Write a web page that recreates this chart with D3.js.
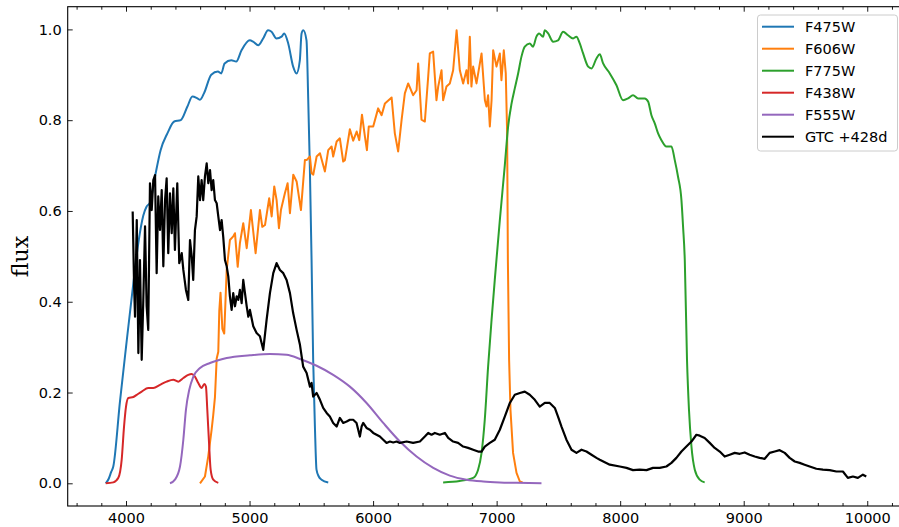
<!DOCTYPE html>
<html><head><meta charset="utf-8">
<script src="https://cdn.jsdelivr.net/npm/d3@7"></script>
<style>
body{margin:0;background:#fff;}
svg{display:block;}
</style></head>
<body>
<svg id="chart" width="899" height="527"></svg>
<script>
// ---- data (wavelength in Å, normalised flux) ----
const seriesNames = ["F475W","F606W","F775W","F438W","F555W","GTC +428d"];
const seriesColors = ["#1f77b4","#ff7f0e","#2ca02c","#d62728","#9467bd","#000000"];
const xTicks = [4000,5000,6000,7000,8000,9000,10000];
const yTicks = [0.0,0.2,0.4,0.6,0.8,1.0];

const f475w = [[3836,0],[3860,0.01],[3880,0.025],[3897,0.037],[3951,0.18],[4000,0.30],[4059,0.44],[4100,0.53],[4140,0.59],[4167,0.61],[4194,0.618],[4235,0.676],[4280,0.734],[4335,0.771],[4390,0.797],[4443,0.80],[4497,0.83],[4537,0.852],[4578,0.848],[4599,0.845],[4631,0.859],[4690,0.90],[4744,0.907],[4771,0.903],[4798,0.925],[4852,0.932],[4892,0.929],[4935,0.954],[5002,0.976],[5029,0.973],[5070,0.965],[5110,0.98],[5150,0.998],[5178,0.995],[5218,0.98],[5259,0.984],[5280,0.991],[5313,0.969],[5353,0.918],[5380,0.903],[5407,0.932],[5421,0.991],[5435,0.998],[5461,0.976],[5475,0.845],[5488,0.698],[5502,0.492],[5515,0.272],[5529,0.125],[5542,0.03],[5560,0.015],[5583,0.008],[5637,0.002]];

const f606w = [[4599,0],[4639,0.015],[4666,0.06],[4693,0.118],[4706,0.15],[4720,0.19],[4734,0.275],[4747,0.29],[4755,0.38],[4765,0.42],[4780,0.34],[4795,0.33],[4815,0.47],[4841,0.536],[4868,0.544],[4882,0.551],[4904,0.477],[4922,0.529],[4949,0.573],[4977,0.518],[5011,0.602],[5049,0.507],[5084,0.602],[5103,0.565],[5125,0.569],[5159,0.628],[5179,0.588],[5200,0.654],[5219,0.624],[5238,0.562],[5254,0.602],[5286,0.639],[5308,0.661],[5327,0.595],[5354,0.680],[5381,0.665],[5416,0.602],[5448,0.712],[5462,0.712],[5489,0.720],[5502,0.683],[5516,0.680],[5543,0.720],[5570,0.727],[5610,0.687],[5637,0.734],[5664,0.742],[5677,0.720],[5705,0.753],[5731,0.760],[5758,0.709],[5772,0.712],[5812,0.78],[5839,0.755],[5867,0.775],[5888,0.756],[5910,0.812],[5934,0.764],[5950,0.734],[5965,0.786],[6001,0.786],[6041,0.826],[6069,0.811],[6096,0.837],[6150,0.85],[6176,0.771],[6203,0.731],[6231,0.801],[6257,0.859],[6284,0.881],[6324,0.855],[6352,0.866],[6365,0.925],[6392,0.801],[6419,0.797],[6446,0.896],[6459,0.947],[6486,0.951],[6513,0.844],[6527,0.874],[6554,0.910],[6567,0.844],[6594,0.874],[6621,0.881],[6648,0.910],[6676,0.998],[6702,0.910],[6729,0.881],[6756,0.910],[6769,0.881],[6783,0.984],[6796,0.874],[6810,0.918],[6837,0.881],[6878,0.947],[6905,0.844],[6918,0.830],[6931,0.855],[6945,0.786],[6959,0.844],[6972,0.954],[6999,0.918],[7026,0.947],[7039,0.888],[7058,0.954],[7074,0.903],[7085,0.771],[7091,0.492],[7101,0.272],[7112,0.162],[7133,0.067],[7161,0.023],[7188,0.004],[7210,0.002]];

const f775w = [[6567,0.002],[6700,0.005],[6810,0.012],[6850,0.03],[6878,0.067],[6904,0.14],[6931,0.257],[6959,0.36],[6985,0.448],[7004,0.51],[7026,0.58],[7066,0.70],[7093,0.786],[7121,0.837],[7147,0.87],[7174,0.903],[7201,0.94],[7228,0.962],[7268,0.969],[7295,0.962],[7322,0.984],[7343,0.991],[7376,0.984],[7390,0.998],[7417,0.991],[7457,0.973],[7497,0.976],[7538,0.995],[7578,0.987],[7619,0.98],[7646,0.984],[7673,0.969],[7700,0.947],[7741,0.918],[7768,0.914],[7808,0.936],[7835,0.945],[7862,0.925],[7916,0.903],[7970,0.877],[8023,0.844],[8064,0.848],[8104,0.855],[8145,0.848],[8199,0.848],[8226,0.841],[8253,0.811],[8280,0.793],[8307,0.771],[8334,0.756],[8374,0.742],[8415,0.742],[8442,0.712],[8468,0.676],[8496,0.624],[8509,0.566],[8523,0.492],[8541,0.272],[8557,0.162],[8577,0.081],[8604,0.03],[8644,0.008],[8684,0.002]];

const f438w = [[3836,0],[3897,0.002],[3938,0.012],[3965,0.052],[3984,0.125],[4000,0.169],[4019,0.188],[4059,0.19],[4087,0.195],[4127,0.202],[4180,0.21],[4221,0.21],[4275,0.217],[4329,0.224],[4383,0.228],[4423,0.224],[4464,0.232],[4504,0.239],[4531,0.241],[4558,0.235],[4585,0.221],[4612,0.21],[4634,0.219],[4647,0.213],[4658,0.162],[4672,0.089],[4685,0.03],[4706,0.008],[4747,0.001]];

const f555w = [[4356,0],[4396,0.008],[4437,0.037],[4464,0.096],[4485,0.162],[4512,0.206],[4545,0.235],[4599,0.254],[4680,0.265],[4815,0.276],[5003,0.282],[5165,0.285],[5300,0.283],[5408,0.274],[5543,0.259],[5677,0.239],[5812,0.213],[5947,0.177],[6082,0.133],[6217,0.092],[6352,0.059],[6487,0.034],[6621,0.017],[6756,0.008],[6891,0.004],[7026,0.002],[7161,0.001],[7363,0]];

const gtc428 = [[4054,0.599],[4065,0.441],[4073,0.367],[4087,0.580],[4100,0.287],[4113,0.492],[4127,0.272],[4140,0.404],[4154,0.566],[4167,0.39],[4180,0.338],[4194,0.661],[4208,0.602],[4221,0.668],[4235,0.679],[4248,0.463],[4261,0.632],[4275,0.558],[4289,0.646],[4302,0.478],[4316,0.624],[4329,0.672],[4342,0.507],[4356,0.639],[4370,0.551],[4383,0.65],[4396,0.514],[4415,0.661],[4431,0.485],[4451,0.507],[4464,0.47],[4485,0.426],[4504,0.404],[4518,0.536],[4532,0.5],[4544,0.448],[4558,0.558],[4572,0.588],[4585,0.676],[4599,0.624],[4612,0.668],[4625,0.624],[4639,0.676],[4653,0.705],[4666,0.661],[4680,0.690],[4693,0.646],[4706,0.668],[4720,0.624],[4734,0.617],[4747,0.588],[4761,0.558],[4774,0.580],[4787,0.543],[4801,0.492],[4815,0.478],[4828,0.456],[4841,0.412],[4855,0.382],[4868,0.419],[4882,0.39],[4896,0.412],[4909,0.404],[4922,0.426],[4936,0.397],[4949,0.448],[4963,0.419],[4977,0.39],[4990,0.367],[5003,0.382],[5030,0.346],[5057,0.331],[5084,0.324],[5111,0.294],[5138,0.36],[5165,0.419],[5192,0.463],[5219,0.485],[5246,0.47],[5273,0.463],[5300,0.448],[5327,0.419],[5353,0.375],[5381,0.338],[5408,0.305],[5434,0.257],[5462,0.243],[5489,0.213],[5502,0.221],[5515,0.191],[5543,0.199],[5570,0.184],[5596,0.166],[5624,0.155],[5650,0.147],[5677,0.133],[5705,0.125],[5731,0.144],[5758,0.133],[5786,0.136],[5812,0.14],[5839,0.14],[5866,0.133],[5893,0.103],[5907,0.125],[5920,0.133],[5947,0.122],[5974,0.118],[6001,0.111],[6028,0.107],[6055,0.103],[6082,0.096],[6109,0.089],[6136,0.092],[6163,0.09],[6190,0.092],[6217,0.089],[6271,0.092],[6324,0.089],[6379,0.092],[6419,0.103],[6446,0.111],[6473,0.107],[6500,0.111],[6540,0.107],[6581,0.111],[6608,0.1],[6648,0.092],[6688,0.089],[6729,0.081],[6769,0.078],[6810,0.074],[6850,0.07],[6878,0.07],[6904,0.081],[6945,0.089],[6985,0.096],[7026,0.118],[7066,0.147],[7107,0.177],[7147,0.195],[7188,0.199],[7228,0.202],[7268,0.195],[7309,0.184],[7349,0.169],[7390,0.177],[7430,0.177],[7471,0.166],[7497,0.147],[7525,0.125],[7565,0.096],[7606,0.074],[7646,0.067],[7687,0.074],[7727,0.07],[7768,0.063],[7808,0.056],[7835,0.052],[7916,0.041],[7997,0.037],[8051,0.034],[8104,0.029],[8158,0.03],[8213,0.029],[8266,0.034],[8320,0.034],[8374,0.037],[8415,0.045],[8455,0.056],[8496,0.07],[8536,0.081],[8577,0.092],[8617,0.107],[8644,0.105],[8684,0.1],[8725,0.089],[8765,0.078],[8806,0.07],[8846,0.059],[8887,0.063],[8927,0.067],[8968,0.065],[9008,0.068],[9048,0.063],[9089,0.059],[9129,0.056],[9170,0.054],[9210,0.067],[9251,0.07],[9291,0.073],[9332,0.067],[9372,0.056],[9413,0.048],[9453,0.045],[9493,0.041],[9534,0.037],[9588,0.032],[9641,0.030],[9696,0.029],[9750,0.026],[9803,0.026],[9843,0.012],[9884,0.015],[9924,0.012],[9965,0.019],[9992,0.015]];

const seriesData = [f475w, f606w, f775w, f438w, f555w, gtc428];
const smoothSeries = [true, false, true, true, true, false];

// ---- layout ----
const svg = d3.select("#chart");
const L = 67.7, R = 905.3, T = 6.7, B = 506;
const x = d3.scaleLinear().domain([3528, 10308]).range([L, R]);
const y = d3.scaleLinear().domain([-0.05, 1.05]).range([B, T]);
const FONT = "'DejaVu Sans', sans-serif";

// lines
const plot = svg.append("g");
seriesData.forEach((d, i) => {
  const line = d3.line().x(p => x(p[0])).y(p => y(p[1]))
    .curve(smoothSeries[i] ? d3.curveMonotoneX : d3.curveLinear);
  plot.append("path").datum(d).attr("d", line)
    .attr("fill", "none").attr("stroke", seriesColors[i])
    .attr("stroke-width", i === 5 ? 2.2 : 2).attr("stroke-linejoin", "round");
});

// axes
const minorX = d3.range(3600, 10301, 200).filter(v => v % 1000 !== 0);
function styleAxis(g){
  g.selectAll(".domain").remove();
  g.selectAll("line").attr("stroke", "#000").attr("stroke-width", 0.9);
  g.selectAll("text").attr("font-family", FONT).attr("font-size", "14.5px").attr("fill", "#000");
}
svg.append("g").attr("transform", `translate(0,${B})`)
  .call(d3.axisBottom(x).tickValues(xTicks).tickSizeInner(-5).tickSizeOuter(0).tickPadding(7).tickFormat(d3.format("d")))
  .call(styleAxis);
svg.append("g").attr("transform", `translate(0,${B})`)
  .call(d3.axisBottom(x).tickValues(minorX).tickSizeInner(-3).tickSizeOuter(0).tickFormat(""))
  .call(styleAxis);
svg.append("g").attr("transform", `translate(0,${T})`)
  .call(d3.axisTop(x).tickValues(xTicks).tickSizeInner(-5).tickSizeOuter(0).tickFormat(""))
  .call(styleAxis);
svg.append("g").attr("transform", `translate(0,${T})`)
  .call(d3.axisTop(x).tickValues(minorX).tickSizeInner(-3).tickSizeOuter(0).tickFormat(""))
  .call(styleAxis);
svg.append("g").attr("transform", `translate(${L},0)`)
  .call(d3.axisLeft(y).tickValues(yTicks).tickSizeInner(-5).tickSizeOuter(0).tickPadding(6).tickFormat(d3.format(".1f")))
  .call(styleAxis);
svg.append("g").attr("transform", `translate(${R},0)`)
  .call(d3.axisRight(y).tickValues(yTicks).tickSizeInner(-5).tickSizeOuter(0).tickFormat(""))
  .call(styleAxis);

// spines
svg.append("rect").attr("x", L).attr("y", T).attr("width", R - L).attr("height", B - T)
  .attr("fill", "none").attr("stroke", "#000").attr("stroke-width", 1.1);

// y label
svg.append("text").attr("transform", `translate(28,256.5) rotate(-90)`)
  .attr("text-anchor", "middle").attr("font-family", "'DejaVu Serif', serif")
  .attr("font-size", "22px").text("flux");

// legend
const lg = svg.append("g");
lg.append("rect").attr("x", 757.5).attr("y", 15).attr("width", 140).attr("height", 136)
  .attr("rx", 3).attr("fill", "#fff").attr("fill-opacity", 0.8).attr("stroke", "#cccccc").attr("stroke-width", 1);
seriesNames.forEach((n, i) => {
  const cy = 26.7 + i * 22;
  lg.append("line").attr("x1", 762).attr("x2", 794).attr("y1", cy).attr("y2", cy)
    .attr("stroke", seriesColors[i]).attr("stroke-width", 2);
  lg.append("text").attr("x", 805).attr("y", cy + 5.2).attr("font-family", FONT)
    .attr("font-size", "14.5px").attr("fill", "#000").text(n);
});
</script>
</body></html>
